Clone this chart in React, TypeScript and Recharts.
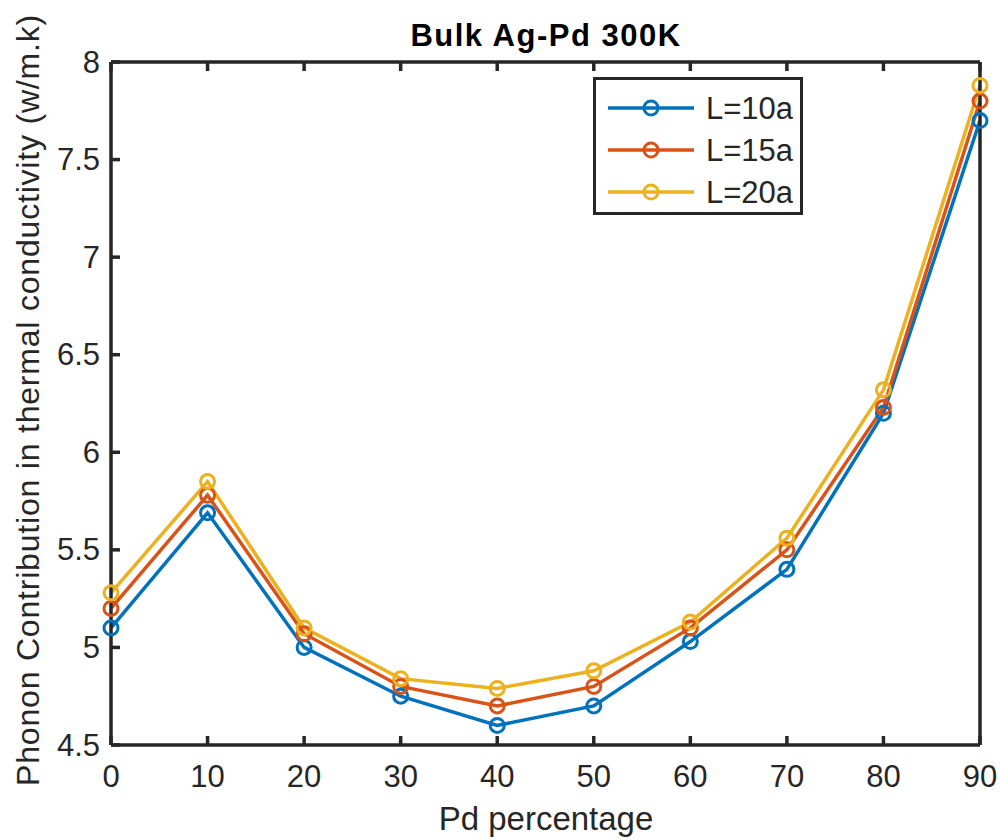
import { LineChart, Line, XAxis, YAxis, Legend } from "recharts";

const pdPercent = [0, 10, 20, 30, 40, 50, 60, 70, 80, 90];
const l10a = [5.1, 5.69, 5.0, 4.75, 4.6, 4.7, 5.03, 5.4, 6.2, 7.7];
const l15a = [5.2, 5.78, 5.07, 4.8, 4.7, 4.8, 5.1, 5.5, 6.23, 7.8];
const l20a = [5.28, 5.85, 5.1, 4.84, 4.79, 4.88, 5.13, 5.56, 6.32, 7.88];
const xTicks = [0, 10, 20, 30, 40, 50, 60, 70, 80, 90];
const yTicks = [4.5, 5, 5.5, 6, 6.5, 7, 7.5, 8];

const seriesList = [
    { key: "l10", name: "L=10a", color: "#0072BD" },
    { key: "l15", name: "L=15a", color: "#D95319" },
    { key: "l20", name: "L=20a", color: "#EDB120" },
];

const rows = pdPercent.map((pd, i) => ({ pd, l10: l10a[i], l15: l15a[i], l20: l20a[i] }));

const FONT = "'Liberation Sans', Arial, Helvetica, sans-serif";
const AXIS = "#262626";

const BottomTick = ({ x, y, payload }: any) => (
    <g>
        <line x1={x} y1={y} x2={x} y2={y - 9} stroke={AXIS} strokeWidth={3.5} />
        <text x={x} y={y + 31} textAnchor="middle" dominantBaseline="central" fontSize={31} fill={AXIS} fontFamily={FONT}>
            {payload.value}
        </text>
    </g>
);

const LeftTick = ({ x, y, payload }: any) => (
    <g>
        <line x1={x} y1={y} x2={x + 9} y2={y} stroke={AXIS} strokeWidth={3.5} />
        <text x={x - 11} y={y} textAnchor="end" dominantBaseline="central" fontSize={31} fill={AXIS} fontFamily={FONT}>
            {payload.value}
        </text>
    </g>
);

const TopTick = ({ x, y }: any) => <line x1={x} y1={y} x2={x} y2={y + 9} stroke={AXIS} strokeWidth={3.5} />;
const RightTick = ({ x, y }: any) => <line x1={x} y1={y} x2={x - 9} y2={y} stroke={AXIS} strokeWidth={3.5} />;

const renderDot = (color: string) => (props: any) => (
    <circle key={props.index} cx={props.cx} cy={props.cy} r={7} fill="none" stroke={color} strokeWidth={3} />
);

function LegendBox() {
    return (
        <div
            style={{
                boxSizing: "border-box",
                width: 210,
                height: 138,
                border: `3.5px solid ${AXIS}`,
                background: "#fff",
                paddingTop: 7,
            }}
        >
            {seriesList.map((s) => (
                <div key={s.key} style={{ display: "flex", alignItems: "center", height: 42 }}>
                    <svg width={100} height={20} style={{ marginLeft: 10 }}>
                        <line x1={2} y1={10} x2={88} y2={10} stroke={s.color} strokeWidth={3.5} />
                        <circle cx={45} cy={10} r={7} fill="none" stroke={s.color} strokeWidth={3} />
                    </svg>
                    <span style={{ fontFamily: FONT, fontSize: 31, color: AXIS, lineHeight: 1 }}>{s.name}</span>
                </div>
            ))}
        </div>
    );
}

export default function App() {
    return (
        <div style={{ position: "absolute", left: 0, top: 0, width: 1001, height: 840, background: "#fff" }}>
            <LineChart width={1001} height={840} data={rows} margin={{ top: 61, right: 20, bottom: 35, left: 31 }}>
                <XAxis
                    dataKey="pd"
                    type="number"
                    domain={[0, 90]}
                    ticks={xTicks}
                    height={60}
                    tickSize={0}
                    tickMargin={0}
                    tickLine={false}
                    axisLine={{ stroke: AXIS, strokeWidth: 3.5 }}
                    tick={<BottomTick />}
                />
                <XAxis
                    xAxisId="top"
                    orientation="top"
                    dataKey="pd"
                    type="number"
                    domain={[0, 90]}
                    ticks={xTicks}
                    height={1}
                    tickSize={0}
                    tickMargin={0}
                    tickLine={false}
                    axisLine={{ stroke: AXIS, strokeWidth: 3.5 }}
                    tick={<TopTick />}
                />
                <YAxis
                    type="number"
                    domain={[4.5, 8]}
                    ticks={yTicks}
                    width={80}
                    tickSize={0}
                    tickMargin={0}
                    tickLine={false}
                    axisLine={{ stroke: AXIS, strokeWidth: 3.5 }}
                    tick={<LeftTick />}
                />
                <YAxis
                    yAxisId="right"
                    orientation="right"
                    type="number"
                    domain={[4.5, 8]}
                    ticks={yTicks}
                    width={1}
                    tickSize={0}
                    tickMargin={0}
                    tickLine={false}
                    axisLine={{ stroke: AXIS, strokeWidth: 3.5 }}
                    tick={<RightTick />}
                />
                {seriesList.map((s) => (
                    <Line
                        key={s.key}
                        dataKey={s.key}
                        name={s.name}
                        type="linear"
                        stroke={s.color}
                        strokeWidth={3.5}
                        dot={renderDot(s.color)}
                        activeDot={false}
                        isAnimationActive={false}
                    />
                ))}
                <Legend
                    layout="vertical"
                    verticalAlign="middle"
                    align="center"
                    content={() => <LegendBox />}
                    wrapperStyle={{ position: "absolute", left: 593, top: 77, width: 210, height: 138 }}
                />
                <text x={546} y={35} textAnchor="middle" dominantBaseline="central" fontSize={31} fontWeight="bold" letterSpacing={1.5} fill="#000" fontFamily={FONT}>
                    Bulk Ag-Pd 300K
                </text>
                <text x={546} y={818} textAnchor="middle" dominantBaseline="central" fontSize={33} fill={AXIS} fontFamily={FONT}>
                    Pd percentage
                </text>
                <text
                    x={28}
                    y={400}
                    transform="rotate(-90 28 400)"
                    textAnchor="middle"
                    dominantBaseline="central"
                    fontSize={32}
                    letterSpacing={0.8}
                    fill={AXIS}
                    fontFamily={FONT}
                >
                    Phonon Contribution in thermal conductivity (w/m.k)
                </text>
            </LineChart>
        </div>
    );
}
